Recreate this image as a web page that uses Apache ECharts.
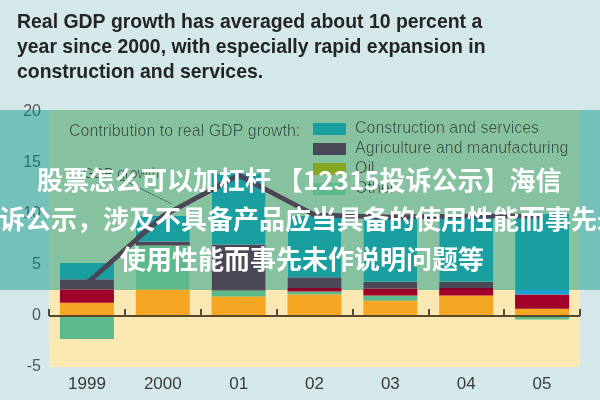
<!DOCTYPE html>
<html><head><meta charset="utf-8">
<script src="https://cdn.jsdelivr.net/npm/echarts@6/dist/echarts.min.js"></script>
<style>html,body{margin:0;padding:0;background:#d4e8ea}#c{width:600px;height:400px}</style>
</head><body><div id="c"></div>
<script>
const years = ['1999', '2000', '01', '02', '03', '04', '05'];
const oil = [1.3, 2.6, 1.9, 2.1, 1.5, 2.0, 0.7];
const other = [-2.25, 4.3, 0.6, 0.3, 0.5, 0, -0.35];
const taxes = [1.3, 0, 0, 0.35, 0.7, 0.75, 1.4];
const agri = [1.0, 0.4, 4.5, 1.05, 0.65, 0.6, 0];
const construction = [1.6, 2.5, 7.0, 6.0, 6.4, 6.5, 7.9];
const gdp = [3.2, 9.8, 13.8, 9.9, 9.7, 9.8, 9.8];
const yTicks = { min: -5, max: 20, interval: 5 };
const titleLines = [
  'Real GDP growth has averaged about 10 percent a',
  'year since 2000, with especially rapid expansion in',
  'construction and services.'
];
const cnLines = [
  '股票怎么可以加杠杆 【12315投诉公示】海信',
  '诉公示，涉及不具备产品应当具备的使用性能而事先未',
  '使用性能而事先未作说明问题等'
];

const chart = echarts.init(document.getElementById('c'));
const bar = (name, data, color) => ({
  name, type: 'bar', stack: 'total', data, barWidth: 54,
  itemStyle: { color }, emphasis: { disabled: true }
});
const txt = (x, y, text, font, fill, z, extra) => Object.assign({
  type: 'text', x, y, z, silent: true,
  style: { text, font, fill, textAlign: 'left', textVerticalAlign: 'middle', align: 'left', verticalAlign: 'middle' }
}, extra || {});

const graphic = [];
titleLines.forEach((t, i) => graphic.push(txt(17, 22.5 + 25 * i, t, 'bold 21px "Liberation Sans", Arial, sans-serif', '#242424', 10, { scaleX: 0.925 })));
graphic.push(txt(69, 132, 'Contribution to real GDP growth:', '16px "Liberation Sans", Arial, sans-serif', '#2e5a52', 10));
graphic.push(txt(83, 174, 'GDP growth', '14px "Liberation Sans", Arial, sans-serif', '#2e5a52', 10));
graphic.push({ type: 'line', z: 10, silent: true, shape: { x1: 123, y1: 180, x2: 172, y2: 204 }, style: { stroke: '#2e5a52', lineWidth: 1 } });
graphic.push({ type: 'rect', z: 100, silent: true, shape: { x: 49, y: 110, width: 531, height: 180 }, style: { fill: 'rgb(134,194,160)', blend: 'darken' } });
graphic.push({ type: 'rect', z: 100, silent: true, shape: { x: 0, y: 110, width: 49, height: 180 }, style: { fill: 'rgba(0,147,127,0.45)' } });
graphic.push({ type: 'rect', z: 100, silent: true, shape: { x: 580, y: 110, width: 20, height: 180 }, style: { fill: 'rgba(0,147,127,0.45)' } });
const cnX = [37, -1, 120], cnY = [180, 219, 259];
cnLines.forEach((t, i) => graphic.push(txt(cnX[i], cnY[i], t, 'bold 26px "Noto Sans CJK SC", sans-serif', '#ffffff', 120)));

chart.setOption({
  animation: false,
  backgroundColor: '#d4e8ea',
  grid: { left: 49, right: 20, top: 112, bottom: 33, show: true, backgroundColor: '#fce8b2', borderWidth: 0 },
  xAxis: {
    type: 'category', data: years,
    axisLine: { show: false },
    axisTick: { show: true, inside: true, length: 7, lineStyle: { color: '#4a4a4a', width: 2 } },
    axisLabel: { color: '#3a3a3a', fontSize: 17, margin: 9, fontFamily: 'Liberation Sans' }
  },
  yAxis: {
    type: 'value', min: yTicks.min, max: yTicks.max, interval: yTicks.interval,
    axisLine: { show: false }, axisTick: { show: false }, splitLine: { show: false },
    axisLabel: { color: '#555555', fontSize: 16, margin: 8, fontFamily: 'Liberation Sans' }
  },
  legend: {
    data: ['Construction and services', 'Agriculture and manufacturing', 'Oil', 'Other'],
    orient: 'vertical', left: 313, top: 121, itemWidth: 33, itemHeight: 12, itemGap: 4,
    icon: 'rect', padding: 0, selectedMode: false,
    textStyle: { fontSize: 16, color: '#2e5a52', fontFamily: 'Liberation Sans', padding: [0, 0, 0, 4] }
  },
  series: [
    bar('Oil', oil, '#f5a623'),
    bar('Other', other, '#5db98c'),
    bar('Net taxes', taxes, '#a0002a'),
    bar('Agriculture and manufacturing', agri, '#4a4756'),
    bar('Construction and services', construction, '#1a9fd4'),
    {
      name: 'GDP growth', type: 'line', data: gdp, z: 5, symbol: 'none',
      lineStyle: { color: '#4a4756', width: 5 },
      emphasis: { disabled: true },
      markLine: {
        silent: true, symbol: 'none', label: { show: false },
        lineStyle: { color: '#5a4628', width: 2, type: 'solid' },
        data: [{ yAxis: 0 }]
      }
    }
  ],
  graphic
});
</script>
</body></html>
